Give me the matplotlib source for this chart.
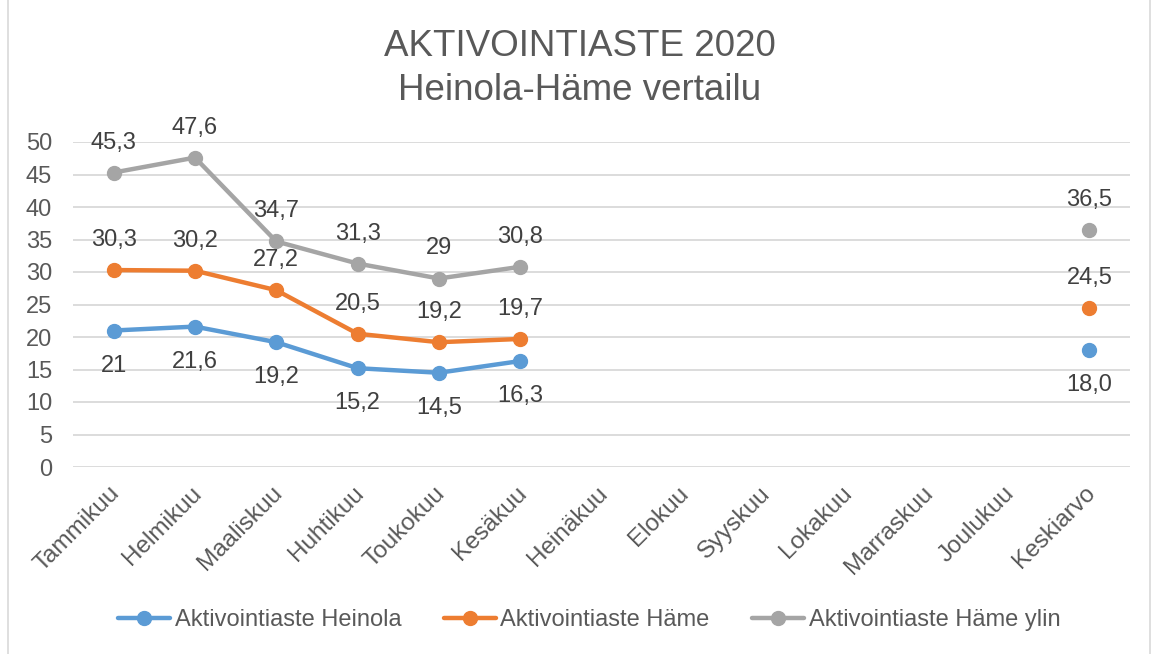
import matplotlib
matplotlib.use("Agg")
import matplotlib.pyplot as plt
import matplotlib.transforms as mtransforms
import numpy as np
from matplotlib.patches import Rectangle

plt.rcParams['font.family'] = ['Liberation Sans', 'DejaVu Sans']

categories = ["Tammikuu", "Helmikuu", "Maaliskuu", "Huhtikuu", "Toukokuu", "Kesäkuu",
              "Heinäkuu", "Elokuu", "Syyskuu", "Lokakuu", "Marraskuu", "Joulukuu", "Keskiarvo"]
nan = np.nan
heinola = [21, 21.6, 19.2, 15.2, 14.5, 16.3, nan, nan, nan, nan, nan, nan, 18.0]
hame = [30.3, 30.2, 27.2, 20.5, 19.2, 19.7, nan, nan, nan, nan, nan, nan, 24.5]
hame_ylin = [45.3, 47.6, 34.7, 31.3, 29, 30.8, nan, nan, nan, nan, nan, nan, 36.5]
series_names = ["Aktivointiaste Heinola", "Aktivointiaste Häme", "Aktivointiaste Häme ylin"]
colors = ["#5B9BD5", "#ED7D31", "#A5A5A5"]
yticks = [0, 5, 10, 15, 20, 25, 30, 35, 40, 45, 50]

text_color = "#595959"
fig = plt.figure(figsize=(11.6, 6.54), dpi=100)
ax = fig.add_axes([73/1160, 1-467/654, (1130-73)/1160, (467-142)/654])

# outer border
fig.patches.append(Rectangle((8/1160, -0.01), (1150-8)/1160, 1.02, transform=fig.transFigure,
                             fill=False, edgecolor="#D9D9D9", linewidth=1.2))

x = np.arange(len(categories))

def fmt(v, avg):
    if avg:
        s = f"{v:.1f}"
    else:
        s = f"{v:g}"
    return s.replace(".", ",")

offsets = [-35, 30, 30]
for vals, name, c, off in zip([heinola, hame, hame_ylin], series_names, colors, offsets):
    ax.plot(x, vals, color=c, linewidth=3.2, marker="o", markersize=10,
            solid_capstyle="round", label=name, zorder=3)
    for i, v in enumerate(vals):
        if np.isnan(v):
            continue
        ax.annotate(fmt(v, i == len(categories) - 1), (i, v), xytext=(0, off),
                    textcoords="offset pixels", ha="center", va="center",
                    fontsize=17, color="#404040", zorder=4)

ax.set_xlim(-0.5, len(categories) - 0.5)
ax.set_ylim(0, 50)
ax.set_yticks(yticks)
ax.set_yticklabels([str(t) for t in yticks])
ax.set_xticks(x)
ax.set_xticklabels(categories, rotation=45, ha="right", rotation_mode="anchor")
ax.tick_params(axis="both", length=0, labelcolor=text_color)
ax.tick_params(axis="y", pad=15, labelsize=17)
ax.tick_params(axis="x", pad=11, labelsize=17.5)
shift = mtransforms.ScaledTranslation(-5/100, 0, fig.dpi_scale_trans)
for lbl in ax.get_xticklabels():
    lbl.set_transform(lbl.get_transform() + shift)
ax.grid(axis="y", color="#D9D9D9", linewidth=1.3, zorder=0)
ax.set_axisbelow(True)
for s in ax.spines.values():
    s.set_visible(False)

fig.text(0.5, 1-47/654, "AKTIVOINTIASTE 2020", ha="center", va="center", fontsize=26.5, color=text_color)
fig.text(0.5, 1-91/654, "Heinola-Häme vertailu", ha="center", va="center", fontsize=26.5, color=text_color)

leg = fig.legend(loc="center", bbox_to_anchor=(0.508, 1-620/654), ncol=3, frameon=False,
                 fontsize=17, handlelength=2.2, columnspacing=1.8, handletextpad=0.2)
for t in leg.get_texts():
    t.set_color(text_color)

fig.savefig("out.png", dpi=100)
